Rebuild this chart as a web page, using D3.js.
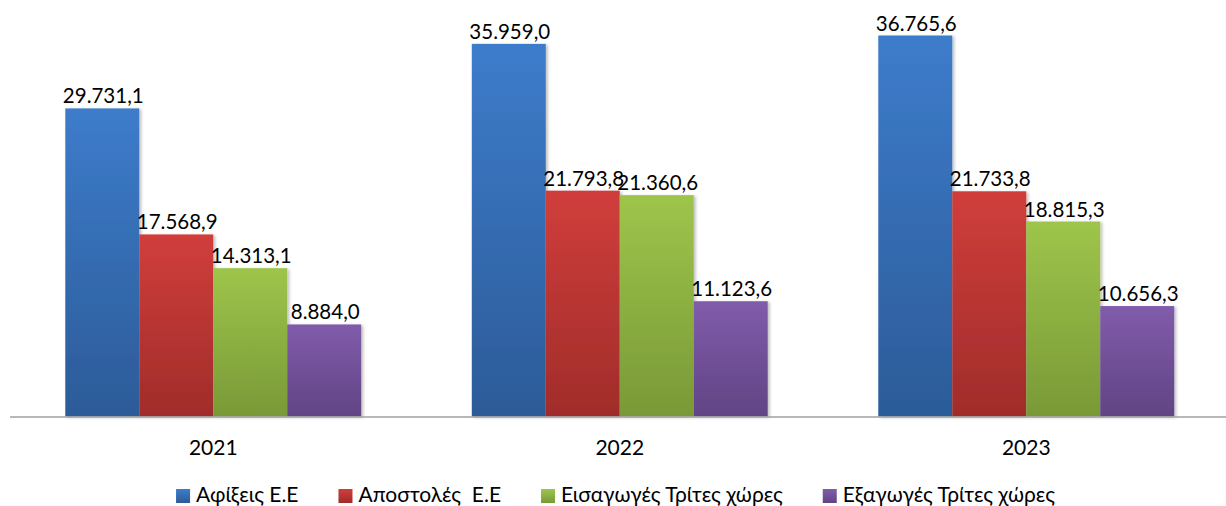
<!DOCTYPE html>
<html>
<head>
<meta charset="utf-8">
<script src="https://cdn.jsdelivr.net/npm/d3@7"></script>
<style>
  body { margin: 0; background: #fff; }
  text { font-family: Lato, "Open Sans", sans-serif; fill: #000; }
</style>
</head>
<body>
<div id="chart"></div>
<script>
const years = ["2021", "2022", "2023"];
const seriesNames = ["Αφίξεις Ε.Ε", "Αποστολές  Ε.Ε", "Εισαγωγές Τρίτες χώρες", "Εξαγωγές Τρίτες χώρες"];
const arrivals = [29731.1, 35959.0, 36765.6];
const dispatches = [17568.9, 21793.8, 21733.8];
const imports = [14313.1, 21360.6, 18815.3];
const exports = [8884.0, 11123.6, 10656.3];
const seriesValues = [arrivals, dispatches, imports, exports];

// top / bottom gradient colours for each series
const colors = [
  ["#3d7ccb", "#2c5b98"],
  ["#d03e3b", "#a02c2a"],
  ["#9ec54b", "#799937"],
  ["#805cab", "#614484"],
];

const W = 1226, H = 506;
const baseline = 416.5;

const greek = d3.formatLocale({ decimal: ",", thousands: ".", grouping: [3], currency: ["", "€"] });
const fmt = greek.format(",.1f");

const svg = d3.select("#chart").append("svg")
  .attr("width", W)
  .attr("height", H);

const defs = svg.append("defs");
colors.forEach((c, i) => {
  const g = defs.append("linearGradient")
    .attr("id", "grad" + i)
    .attr("x1", 0).attr("y1", 0).attr("x2", 0).attr("y2", 1);
  g.append("stop").attr("offset", "0%").attr("stop-color", c[0]);
  g.append("stop").attr("offset", "100%").attr("stop-color", c[1]);
});
defs.append("filter").attr("id", "shadow")
  .attr("x", "-10%").attr("y", "-10%").attr("width", "130%").attr("height", "130%")
  .append("feDropShadow")
  .attr("dx", 2).attr("dy", 1).attr("stdDeviation", 1.5)
  .attr("flood-color", "#000").attr("flood-opacity", 0.25);

const x0 = d3.scaleBand().domain(years).range([10, 1229.5]).paddingInner(0.272).paddingOuter(0.136);
const x1 = d3.scaleBand().domain(d3.range(seriesNames.length)).range([0, x0.bandwidth()]);
const y = d3.scaleLinear().domain([0, 40000]).range([baseline, 2]);

const groups = svg.selectAll(".year")
  .data(years)
  .enter()
  .append("g")
  .attr("class", "year")
  .attr("transform", (d) => `translate(${x0(d)},0)`);

groups.selectAll("rect")
  .data((d, yi) => seriesValues.map((vals, si) => ({ si, v: vals[yi] })))
  .enter()
  .append("rect")
  .attr("x", (d) => x1(d.si))
  .attr("y", (d) => y(d.v))
  .attr("width", x1.bandwidth())
  .attr("height", (d) => baseline - y(d.v))
  .attr("fill", (d) => `url(#grad${d.si})`)
  .attr("filter", "url(#shadow)");

groups.selectAll(".lbl")
  .data((d, yi) => seriesValues.map((vals, si) => ({ si, v: vals[yi] })))
  .enter()
  .append("text")
  .attr("class", "lbl")
  .attr("x", (d) => x1(d.si) + x1.bandwidth() / 2 + 1)
  .attr("y", (d) => y(d.v) - 5)
  .attr("text-anchor", "middle")
  .style("font-size", "20.5px")
  .text((d) => fmt(d.v));

// category axis
const xAxis = d3.axisBottom(x0).tickSize(0).tickPadding(23);
const ax = svg.append("g")
  .attr("transform", `translate(0,${baseline + 0.5})`)
  .call(xAxis);
ax.select(".domain").attr("stroke", "#a0a0a0").attr("stroke-width", 1.6)
  .attr("d", `M10,0H${W}`);
ax.selectAll(".tick text")
  .style("font-family", "Lato, 'Open Sans', sans-serif")
  .style("font-size", "21px")
  .attr("fill", "#000");

// legend
const legend = svg.append("g");
const sq = 14, gapSq = 6, gapItem = 40;
let cx = 0;
seriesNames.forEach((name, i) => {
  const item = legend.append("g").attr("transform", `translate(${cx},0)`);
  item.append("rect")
    .attr("x", 0).attr("y", -13)
    .attr("width", sq).attr("height", sq)
    .attr("fill", `url(#grad${i})`);
  const t = item.append("text")
    .attr("x", sq + gapSq)
    .attr("y", 0)
    .attr("xml:space", "preserve")
    .style("white-space", "pre")
    .style("font-size", "21px")
    .text(name);
  cx += sq + gapSq + t.node().getComputedTextLength() + gapItem;
});
const legendW = cx - gapItem;
legend.attr("transform", `translate(${615.5 - legendW / 2},502)`);
</script>
</body>
</html>
